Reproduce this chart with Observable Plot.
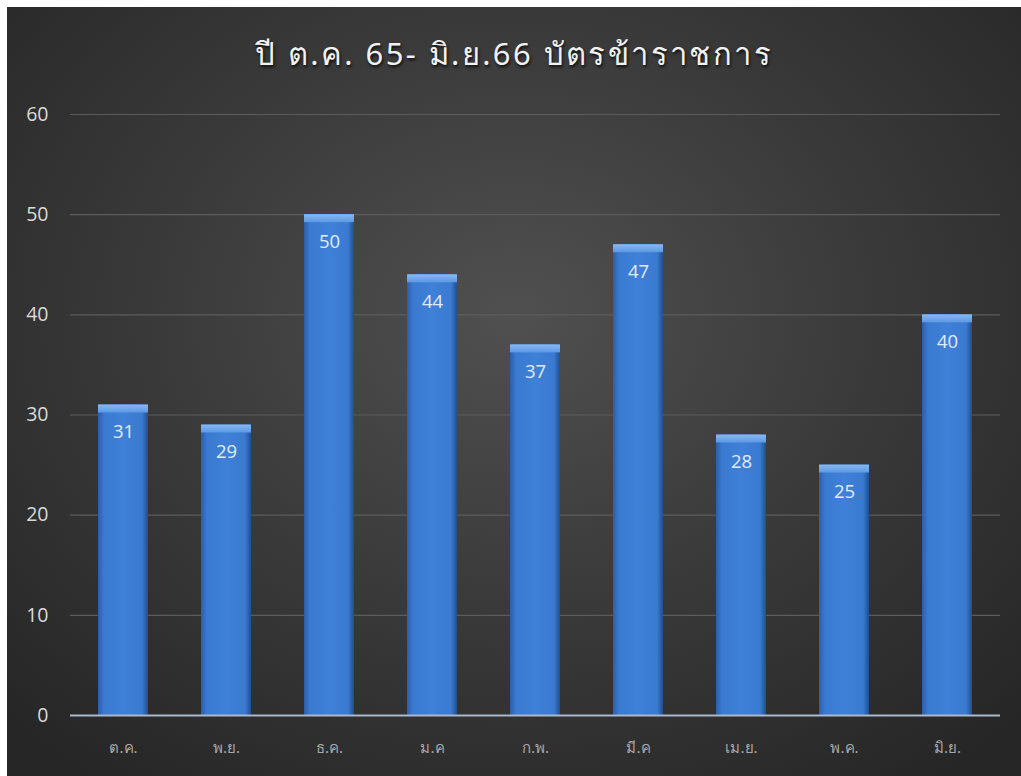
<!DOCTYPE html>
<html>
<head>
<meta charset="utf-8">
<script src="https://cdn.jsdelivr.net/npm/d3@7"></script>
<script src="https://cdn.jsdelivr.net/npm/@observablehq/plot@0.6"></script>
<style>
  html, body { margin: 0; padding: 0; background: #ffffff; }
  #panel {
    position: absolute; left: 7px; top: 7px; width: 1014px; height: 769px;
    background: radial-gradient(ellipse 70% 75% at 50% 40%, #505050 0%, #3a3a3a 50%, #262626 100%);
    overflow: hidden;
  }
  #title {
    position: absolute; left: 0; top: 22px; width: 100%; text-align: center;
    color: #f2f2f2; font-family: "Noto Sans", "DejaVu Sans", sans-serif; font-size: 31px;
    letter-spacing: 2.4px; text-shadow: 1px 2px 3px rgba(0,0,0,0.8); margin: 0; font-weight: normal;
  }
  #chart { position: absolute; left: 0; top: 83px; }
</style>
</head>
<body>
<div id="panel">
  <h2 id="title">ปี ต.ค. 65- มิ.ย.66 บัตรข้าราชการ</h2>
  <div id="chart"></div>
</div>
<script>
const months = ["ต.ค.", "พ.ย.", "ธ.ค.", "ม.ค", "ก.พ.", "มี.ค", "เม.ย.", "พ.ค.", "มิ.ย."];
const counts = [31, 29, 50, 44, 37, 47, 28, 25, 40];
const yTicks = [0, 10, 20, 30, 40, 50, 60];

const data = months.map((m, i) => ({month: m, value: counts[i]}));

const defs = () => {
  const ns = "http://www.w3.org/2000/svg";
  const d = document.createElementNS(ns, "defs");
  d.innerHTML = `
    <linearGradient id="barGrad" x1="0" x2="1" y1="0" y2="0">
      <stop offset="0%" stop-color="#2b5ea8"/>
      <stop offset="12%" stop-color="#3a7ad0"/>
      <stop offset="50%" stop-color="#3f80d8"/>
      <stop offset="88%" stop-color="#3a7ad0"/>
      <stop offset="100%" stop-color="#224e8e"/>
    </linearGradient>
    <linearGradient id="topGrad" x1="0" x2="0" y1="0" y2="1">
      <stop offset="0%" stop-color="#86b9f5"/>
      <stop offset="100%" stop-color="#5d98e4"/>
    </linearGradient>`;
  return d;
};

const chart = Plot.plot({
  width: 1014,
  height: 686,
  marginTop: 24,
  marginBottom: 61,
  marginLeft: 63,
  marginRight: 21,
  style: {background: "transparent", color: "#d9d9d9", overflow: "visible"},
  x: {domain: months, paddingInner: 0.516, paddingOuter: 0.258, label: null},
  y: {domain: [0, 60], label: null, ticks: yTicks},
  marks: [
    defs,
    Plot.gridY(yTicks.filter(t => t > 0), {stroke: "#5c5c5c", strokeOpacity: 1, strokeWidth: 1.2}),
    Plot.axisY({ticks: yTicks, tickSize: 0, tickPadding: 22, fontSize: 19.5, fill: "#d9d9d9", fontFamily: "Open Sans, Noto Sans, sans-serif", label: null}),
    Plot.axisX({tickSize: 0, tickPadding: 27, fontSize: 15, fill: "#a8a8a8", fontFamily: "Noto Sans, sans-serif", label: null}),
    Plot.barY(data, {x: "month", y: "value", fill: "url(#barGrad)"}),
    Plot.barY(data, {x: "month", y1: d => d.value, y2: d => d.value - 0.8, fill: "url(#topGrad)"}),
    Plot.ruleY([0], {stroke: "#a9b8cc", strokeWidth: 2}),
    Plot.text(data, {x: "month", y: "value", text: d => String(d.value), dy: 27, fill: "#e3ebf5", fontSize: 18.5, fontFamily: "Open Sans, Noto Sans, sans-serif"})
  ]
});
document.getElementById("chart").appendChild(chart);
</script>
</body>
</html>
